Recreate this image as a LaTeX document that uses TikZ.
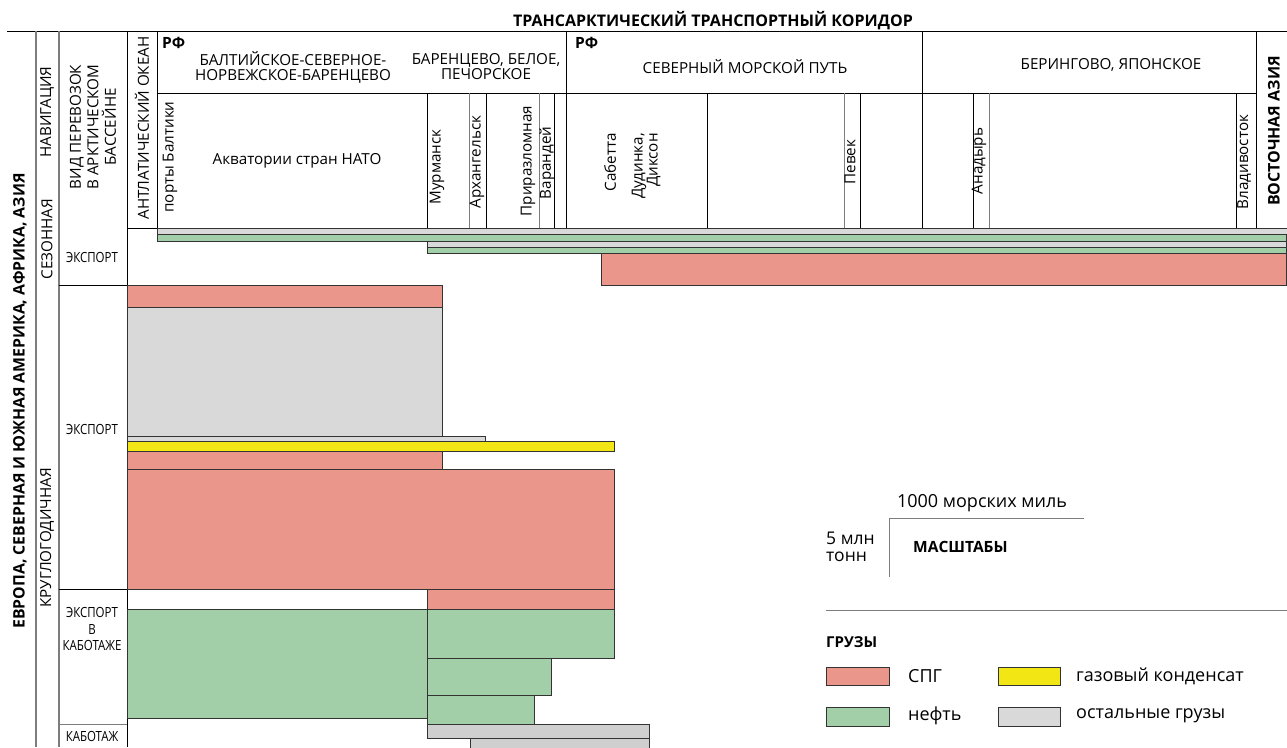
\documentclass[tikz,border=0pt]{standalone}
\usepackage{fontspec}
\setmainfont{Open Sans}
\usepackage{tikz}
\usetikzlibrary{arrows.meta}
\definecolor{spg}{RGB}{234,150,138}
\definecolor{neft}{RGB}{162,207,168}
\definecolor{kond}{RGB}{242,230,20}
\definecolor{proch}{RGB}{217,217,217}
\definecolor{prochb}{RGB}{208,207,208}
\definecolor{setka}{RGB}{125,125,125}
\newcommand{\uzko}[1]{\scalebox{0.82}[1]{#1}}
\tikzset{
  txt/.style={inner sep=0pt,align=center,font=\fontsize{15.2}{15}\selectfont},
  txtb/.style={inner sep=0pt,align=center,font=\fontsize{15.5}{15}\selectfont\bfseries},
  vtxt/.style={txt,rotate=90},
  vtxtb/.style={txtb,rotate=90},
  ryad/.style={inner sep=0pt,align=center,font=\fontsize{14}{16.5}\selectfont},
  legtxt/.style={inner sep=0pt,anchor=west,font=\fontsize{18}{17}\selectfont},
  bar/.style={draw=black!80,line width=0.8pt},
  spgbar/.style={bar,fill=spg},
  neftbar/.style={bar,fill=neft},
  kondbar/.style={bar,fill=kond},
  prochbar/.style={bar,fill=proch},
  prochbbar/.style={bar,fill=prochb}
}
\begin{document}
\begin{tikzpicture}[x=1pt,y=-1pt]
		\useasboundingbox (0,0) rectangle (1287,747);

		\begin{scope}[line width=0.9pt]
		    \draw (7,31) -- (1287,31);
		    \draw[setka,line width=1.4pt] (36,31) -- (36,747);
		    \draw[setka,line width=1.4pt] (59,31) -- (59,747);
		    \draw (127,31) -- (127,747);
		    \draw (157,31) -- (157,228);
		    \draw (157,93) -- (1256,93);
		    \draw (566,31) -- (566,228);
		    \draw (922,31) -- (922,228);
		    \draw (1256,31) -- (1256,228);
		    \foreach \x in {427,486,554,707,860,973,1236}
		        \draw (\x,93) -- (\x,228);
		    \foreach \x in {469,539,844,989}
		        \draw[setka] (\x,93) -- (\x,228);
		    \draw (127,228) -- (157,228);
		    \draw (59,285) -- (127,285);
		    \draw (59,589) -- (127,589);
		    \draw[setka] (59,724) -- (127,724);
		\end{scope}

		\begin{scope}
		    \draw[prochbar] (157,228) rectangle (1288,234);
		    \draw[neftbar] (157,234) rectangle (1286,241);
		    \draw[prochbar] (427,241) rectangle (1286,247);
		    \draw[neftbar] (427,247) rectangle (1286,253);
		    \draw[spgbar] (601,253) rectangle (1286,285);
		    \draw[spgbar] (127,285) rectangle (442,307);
		    \draw[prochbar] (127,307) rectangle (442,436);
		    \draw[prochbar] (127,436) rectangle (485,441);
		    \draw[kondbar] (127,441) rectangle (614,451);
		    \draw[spgbar] (127,451) rectangle (442,469);
		    \draw[spgbar] (127,469) rectangle (614,589);
		    \draw[spgbar] (427,589) rectangle (614,609);
		    \draw[neftbar] (127,609) rectangle (427,718);
		    \draw[neftbar] (427,609) rectangle (614,658);
		    \draw[neftbar] (427,658) rectangle (551,695);
		    \draw[neftbar] (427,695) rectangle (534,724);
		    \draw[prochbbar] (427,724) rectangle (649,738);
		    \draw[prochbbar] (470,738) rectangle (649,749);
		\end{scope}

		\node[txtb,font=\fontsize{16}{15}\selectfont\bfseries] (title) at (713,21) {ТРАНСАРКТИЧЕСКИЙ ТРАНСПОРТНЫЙ КОРИДОР};
		\node[txtb,anchor=west] (rf1) at (162,43) {РФ};
		\node[txt] (baltic) at (293,67) {БАЛТИЙСКОЕ-СЕВЕРНОЕ-\\НОРВЕЖСКОЕ-БАРЕНЦЕВО};
		\node[txt] (barents) at (486,67) {БАРЕНЦЕВО, БЕЛОЕ,\\ПЕЧОРСКОЕ};
		\node[txtb,anchor=west] (rf2) at (575,43) {РФ};
		\node[txt] (smp) at (745,67) {СЕВЕРНЫЙ МОРСКОЙ ПУТЬ};
		\node[txt] (bering) at (1111,65) {БЕРИНГОВО, ЯПОНСКОЕ};
		\node[vtxtb,font=\fontsize{16}{15}\selectfont\bfseries] (vostok) at (1274,131) {ВОСТОЧНАЯ АЗИЯ};

		\node[vtxt] (okean) at (142,128) {АНТЛАТИЧЕСКИЙ ОКЕАН};
		\node[vtxt] (porty) at (170,157) {порты Балтики};
		\node[txt] (nato) at (297,161) {Акватории стран НАТО};
		\node[vtxt] (murmansk) at (437,167) {Мурманск};
		\node[vtxt] (arkh) at (477,162) {Архангельск};
		\node[vtxt] (prirazl) at (528,161) {Приразломная};
		\node[vtxt] (varand) at (547,163) {Варандей};
		\node[vtxt] (sabetta) at (610,162) {Сабетта};
		\node[vtxt,align=right,anchor=east] (dudinka) at (646,133) {Дудинка,\\Диксон};
		\node[vtxt] (pevek) at (850,162) {Певек};
		\node[vtxt] (anadyr) at (979,161) {Анадырь};
		\node[vtxt] (vladik) at (1244,162) {Владивосток};

		\node[vtxtb,font=\fontsize{15.8}{15}\selectfont\bfseries] (regiony) at (20,401) {ЕВРОПА, СЕВЕРНАЯ И ЮЖНАЯ АМЕРИКА, АФРИКА, АЗИЯ};
		\node[vtxt] (navig) at (47,112) {НАВИГАЦИЯ};
		\node[vtxt] (sezon) at (47,239) {СЕЗОННАЯ};
		\node[vtxt] (kruglo) at (47,538) {КРУГЛОГОДИЧНАЯ};
		\node[vtxt,font=\fontsize{15.2}{17.5}\selectfont] (vid) at (93,127) {ВИД ПЕРЕВОЗОК\\В АРКТИЧЕСКОМ\\БАССЕЙНЕ};
		\node[ryad] (eksp1) at (92,257) {\uzko{ЭКСПОРТ}};
		\node[ryad] (eksp2) at (92,429) {\uzko{ЭКСПОРТ}};
		\node[ryad] (eksp3) at (92,629) {\uzko{ЭКСПОРТ}\\\uzko{В}\\\uzko{КАБОТАЖЕ}};
		\node[ryad] (kabot) at (92,736) {\uzko{КАБОТАЖ}};

		\draw[line width=0.9pt,setka] (889,577) -- (889,518) -- (1084,518);
		\node[legtxt,anchor=center] (mili) at (982,503) {1000 морских миль};
		\node[legtxt,align=left,font=\fontsize{17.5}{16.5}\selectfont] (tonny) at (826,547) {5 млн\\тонн};
		\node[txtb,anchor=west] (masht) at (913,547) {МАСШТАБЫ};
		\draw[line width=0.9pt,setka] (826,610) -- (1287,610);
		\node[txtb,anchor=west,font=\fontsize{15}{15}\selectfont\bfseries] (gruzy) at (826,642) {ГРУЗЫ};

		\draw[spgbar] (826,667) rectangle (889,685);
		\draw[kondbar] (998,667) rectangle (1060,685);
		\draw[neftbar] (826,707) rectangle (889,726);
		\draw[prochbar] (998,707) rectangle (1060,726);
		\node[legtxt] (lspg) at (908,676) {СПГ};
		\node[legtxt] (lkond) at (1076,676) {газовый конденсат};
		\node[legtxt] (lneft) at (908,716) {нефть};
		\node[legtxt] (lproch) at (1076,716) {остальные грузы};
\end{tikzpicture}
\end{document}
